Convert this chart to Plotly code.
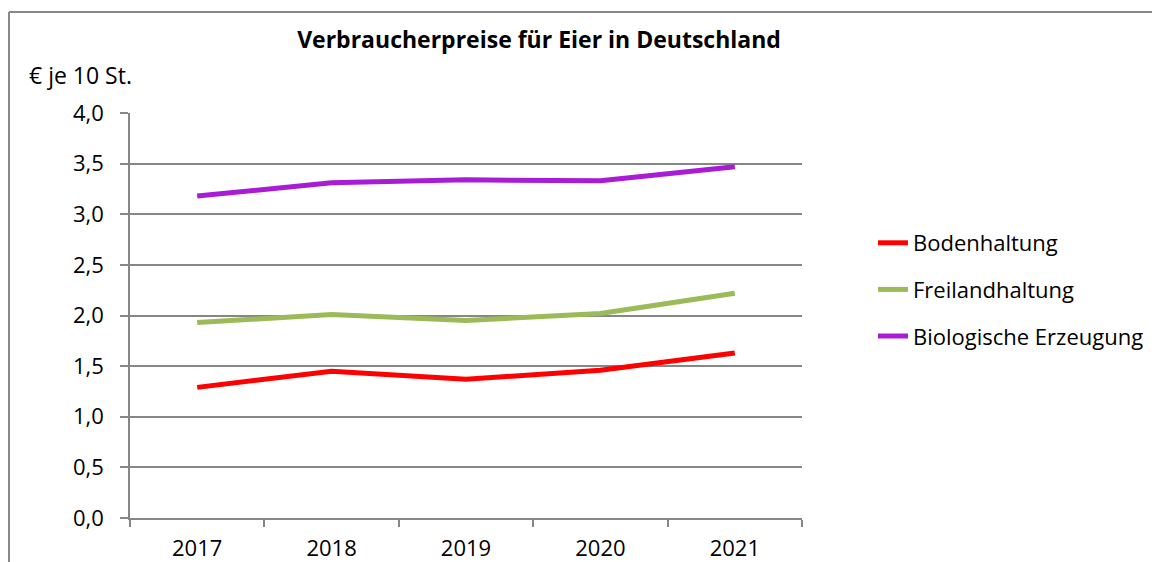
import plotly.graph_objects as go

years = ["2017", "2018", "2019", "2020", "2021"]
boden = [1.29, 1.45, 1.37, 1.46, 1.63]
freiland = [1.93, 2.01, 1.95, 2.02, 2.22]
bio = [3.18, 3.31, 3.34, 3.33, 3.47]

series = [
    ("Bodenhaltung", boden, "#FF0000"),
    ("Freilandhaltung", freiland, "#9BBB59"),
    ("Biologische Erzeugung", bio, "#A81CD6"),
]

FONT = "Open Sans"
PW, PH = 672, 405
L, T = 122, 105
fig = go.Figure()
for i, (name, vals, col) in enumerate(series):
    fig.add_trace(go.Scatter(
        x=years, y=vals, name=name, mode="lines",
        line=dict(color=col, width=5),
        legendgroup=f"g{i}",
    ))

fig.update_layout(
    width=1160, height=562,
    margin=dict(l=L, r=1160 - L - PW, t=T, b=562 - T - PH, autoexpand=False),
    paper_bgcolor="white", plot_bgcolor="white",
    separators=",.",
    font=dict(family=FONT, size=22, color="#000000"),
    title=dict(text="<b>Verbraucherpreise für Eier in Deutschland</b>",
               x=531 / 1160, xanchor="center", y=1 - 32 / 562, yanchor="middle",
               font=dict(family=FONT, size=23, color="#000000")),
    showlegend=True,
    legend=dict(x=(865 - L) / PW, xref="paper", y=(T + PH - 214) / PH, yref="paper",
                yanchor="top", xanchor="left",
                font=dict(family=FONT, size=22),
                tracegroupgap=15, itemwidth=30, bgcolor="rgba(0,0,0,0)"),
    xaxis=dict(type="category", tickson="boundaries", ticks="outside", ticklen=7,
               tickcolor="#868686", tickwidth=1.5, showgrid=False,
               showline=True, linecolor="#868686", linewidth=1.5,
               ticklabelstandoff=10,
               tickfont=dict(family=FONT, size=22), range=[-0.5, 4.5]),
    yaxis=dict(range=[0, 4], dtick=0.5, tickformat=".1f", ticks="outside", ticklen=8,
               tickcolor="#868686", tickwidth=1.5, showgrid=True, gridcolor="#868686",
               gridwidth=1.5, showline=True, linecolor="#868686", linewidth=1.5,
               zeroline=False, ticklabelstandoff=12,
               tickfont=dict(family=FONT, size=22)),
    annotations=[dict(text="€ je 10 St.", xref="paper", yref="paper",
                      x=(19 - L) / PW, xanchor="left", y=1 + (T - 67) / PH, yanchor="middle",
                      showarrow=False, font=dict(family=FONT, size=23))],
    shapes=[dict(type="line", xref="paper", yref="paper",
                 x0=(1 - L) / PW, x1=(1 - L) / PW, y0=-60 / PH, y1=1 + (T - 4) / PH,
                 line=dict(color="#888888", width=2)),
            dict(type="line", xref="paper", yref="paper",
                 x0=(1 - L) / PW, x1=1 + 400 / PW, y0=1 + (T - 4) / PH, y1=1 + (T - 4) / PH,
                 line=dict(color="#888888", width=2))],
)

fig.write_html("out.html")
